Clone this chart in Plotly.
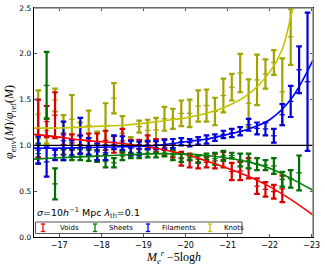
import plotly.graph_objects as go

# ---------------- data ----------------
mag_bins = [-16.5, -16.7, -16.9, -17.1, -17.3, -17.5, -17.7, -17.9, -18.1, -18.3,
            -18.5, -18.7, -18.9, -19.1, -19.3, -19.5, -19.7, -19.9, -20.1, -20.3,
            -20.5, -20.7, -20.9, -21.1, -21.3, -21.5, -21.7, -21.9, -22.1, -22.3,
            -22.5, -22.7, -22.9]

knots_lo = [1.08, 1.02, 1.37, 0.95, 1.02, 0.98, 1.05, 0.84, 0.84, 1.35, 0.94, 0.87, 1.14,
            1.05, 1.04, 1.16, 1.18, 1.21, 1.20, 1.26, 1.26, 1.22, 1.36, 1.49, 1.58, 1.20,
            1.44, 1.62, 1.77, 1.22, 1.88]
knots_hi = [1.60, 1.30, 1.62, 1.33, 1.55, 1.25, 1.38, 1.15, 1.46, 1.68, 1.32, 1.09, 1.27,
            1.28, 1.30, 1.42, 1.40, 1.49, 1.50, 1.60, 1.61, 1.52, 1.73, 1.78, 2.00, 1.72,
            1.99, 1.94, 2.04, 1.95, 2.49]

voids_lo = [0.87, 1.09, 1.08, 0.90, 0.95, 0.91, 0.96, 0.95, 0.95, 0.92, 0.92, 0.91, 0.96,
            0.96, 0.93, 0.89, 0.87, 0.78, 0.76, 0.75, 0.76, 0.75, 0.76, 0.62, 0.62, 0.64,
            0.47, 0.44, 0.42, 0.38]
voids_hi = [1.50, 1.43, 1.58, 1.12, 1.12, 1.11, 1.13, 1.13, 1.16, 1.10, 1.18, 1.06, 1.06,
            1.11, 1.07, 1.07, 1.01, 0.93, 0.91, 0.89, 0.87, 0.91, 0.93, 0.81, 0.82, 0.86,
            0.64, 0.60, 0.57, 0.67]

sheets_lo = [0.80, 1.29, 0.41, 0.84, 0.84, 0.84, 0.83, 0.82, 0.76, 0.76, 0.84, 0.86, 0.86,
             0.87, 0.87, 0.88, 0.84, 0.82, 0.84, 0.81, 0.84, 0.79, 0.83, 0.86, 0.77, 0.75,
             0.73, 0.73, 0.69, 0.55, 0.54, 0.51]
sheets_hi = [1.02, 2.02, 0.75, 0.96, 0.96, 0.96, 0.95, 0.95, 0.90, 0.86, 0.93, 0.92, 0.92,
             0.96, 0.97, 0.95, 0.95, 0.91, 0.89, 0.89, 0.91, 0.92, 0.94, 0.92, 0.91, 0.91,
             0.86, 0.84, 0.86, 0.71, 0.73, 0.89]

fil_lo = [0.80, 0.66, 0.84, 0.84, 0.88, 0.91, 0.90, 0.84, 0.84, 0.96, 0.95, 0.89, 0.89,
          0.96, 0.96, 0.96, 0.97, 1.00, 0.99, 1.01, 1.02, 1.05, 1.08, 1.09, 1.11, 1.16,
          1.12, 1.11, 1.03, 1.22, 1.31, 1.57, 0.94]
fil_hi = [1.10, 0.98, 0.95, 1.26, 1.06, 1.30, 1.08, 1.02, 1.00, 1.11, 1.10, 1.05, 1.04,
          1.05, 1.05, 1.06, 1.07, 1.08, 1.07, 1.09, 1.11, 1.12, 1.16, 1.18, 1.20, 1.29,
          1.25, 1.25, 1.18, 1.45, 1.65, 2.08, 2.45]

# fitted curves (read at a few magnitudes)
fit_x = [-16.4, -17.0, -17.5, -18.0, -18.5, -19.0, -19.5, -20.0, -20.5, -21.0,
         -21.5, -22.0, -22.5, -23.03]
fit_voids = [1.12, 1.09, 1.06, 1.04, 1.02, 0.99, 0.95, 0.90, 0.83, 0.75, 0.66, 0.55, 0.41, 0.24]
fit_sheets = [0.85, 0.865, 0.875, 0.885, 0.895, 0.905, 0.91, 0.905, 0.89, 0.86, 0.82, 0.75, 0.64, 0.51]
fit_fil = [0.97, 0.97, 0.975, 0.98, 0.985, 0.99, 1.01, 1.04, 1.07, 1.12, 1.18, 1.28, 1.50, 1.93]
fit_knots_x = [-16.4, -17.0, -17.5, -18.0, -18.5, -19.0, -19.5, -20.0, -20.5, -21.0,
               -21.5, -22.0, -22.3, -22.5, -22.65]
fit_knots = [1.19, 1.19, 1.20, 1.21, 1.22, 1.24, 1.27, 1.30, 1.35, 1.43, 1.56, 1.80, 2.05, 2.40, 2.70]

x_ticks = [-17, -18, -19, -20, -21, -22, -23]
x_tick_labels = ["\u221217", "\u221218", "\u221219", "\u221220", "\u221221", "\u221222", "\u221223"]
y_ticks = [0.0, 0.5, 1.0, 1.5, 2.0, 2.5]
y_tick_labels = ["0.0", "0.5", "1.0", "1.5", "2.0", "2.5"]

legend_names = ["Voids", "Sheets", "Filaments", "Knots"]
bar_colors = ["#d40000", "#006e00", "#0000d8", "#a3a300"]
line_colors = ["#ff0000", "#008000", "#0000ff", "#c4c400"]

# ---------------- figure ----------------
fig = go.Figure()


def add_bars(lo, hi, color):
    n = len(lo)
    xs = mag_bins[:n]
    mid = [(a + b) / 2 for a, b in zip(lo, hi)]
    err = [(b - a) / 2 for a, b in zip(lo, hi)]
    fig.add_trace(go.Scatter(
        x=xs, y=mid, mode="markers",
        marker=dict(symbol="line-ew", size=4, color=color, line=dict(color=color, width=1.2)),
        error_y=dict(type="data", array=err, symmetric=True, color=color, thickness=2.2, width=2.8),
        showlegend=False, cliponaxis=True, hoverinfo="skip"))


add_bars(knots_lo, knots_hi, bar_colors[3])
add_bars(voids_lo, voids_hi, bar_colors[0])
add_bars(sheets_lo, sheets_hi, bar_colors[1])
add_bars(fil_lo, fil_hi, bar_colors[2])

for fx, fy, c in [(fit_x, fit_voids, line_colors[0]), (fit_x, fit_sheets, line_colors[1]),
                  (fit_x, fit_fil, line_colors[2]), (fit_knots_x, fit_knots, line_colors[3])]:
    fig.add_trace(go.Scatter(x=fx, y=fy, mode="lines", line=dict(color=c, width=1.6, shape="spline"),
                             showlegend=False, hoverinfo="skip"))

# horizontal reference line at 1
fig.add_shape(type="line", xref="paper", yref="y", x0=0, x1=1, y0=1, y1=1,
              line=dict(color="black", width=1.2))
# grey top / right frame
fig.add_shape(type="line", xref="paper", yref="paper", x0=0, x1=1, y0=1, y1=1,
              line=dict(color="#909090", width=1.5))
fig.add_shape(type="line", xref="paper", yref="paper", x0=1, x1=1, y0=0, y1=1,
              line=dict(color="#909090", width=1.5))

# pixel -> paper helpers for the hand-drawn legend and labels
L, B, R, T = 34.0, 237.0, 313.0, 8.0
W, H = R - L, B - T


def px(xp):
    return (xp - L) / W


def py(yp):
    return (B - yp) / H


fig.add_shape(type="rect", xref="paper", yref="paper", x0=px(35.5), x1=px(242), y0=py(233.5), y1=py(222),
              line=dict(color="#555555", width=1), fillcolor="white")
sym_x = [43, 95, 148, 210]
txt_x = [58, 107, 160, 222]
for sx, tx, name, c in zip(sym_x, txt_x, legend_names, line_colors):
    fig.add_shape(type="line", xref="paper", yref="paper", x0=px(sx), x1=px(sx), y0=py(231.5), y1=py(224),
                  line=dict(color=c, width=1.3))
    for yy in (231.5, 224):
        fig.add_shape(type="line", xref="paper", yref="paper", x0=px(sx - 2.2), x1=px(sx + 2.2), y0=py(yy), y1=py(yy),
                      line=dict(color=c, width=1.3))
    fig.add_annotation(xref="paper", yref="paper", x=px(tx), y=py(228), text=name, showarrow=False,
                       xanchor="left", yanchor="middle", font=dict(family="DejaVu Sans", size=7, color="black"))

fig.add_annotation(xref="paper", yref="paper", x=px(35), y=py(213),
                   text="<i>σ</i>=10<i>h</i><sup>−1</sup> Mpc <i>λ</i><sub>th</sub>=0.1",
                   showarrow=False, xanchor="left", yanchor="middle",
                   font=dict(family="DejaVu Sans", size=9.5, color="black"))

# axis titles as annotations
fig.add_annotation(xref="paper", yref="paper", x=px(173), y=py(257),
                   text="<i>M</i><sub><i>e</i></sub><sup><i>r</i></sup> −5log<i>h</i>",
                   showarrow=False, xanchor="center", yanchor="middle",
                   font=dict(family="Liberation Serif", size=12, color="black"))
fig.add_annotation(xref="paper", yref="paper", x=px(10), y=py(122),
                   text="<i>φ</i><sub>env</sub>(<i>M</i>)/<i>φ</i><sub>ref</sub>(<i>M</i>)",
                   textangle=-90, showarrow=False, xanchor="center", yanchor="middle",
                   font=dict(family="Liberation Serif", size=12, color="black"))

fig.update_layout(
    width=325, height=267,
    margin=dict(l=34, r=12, t=8, b=30, autoexpand=False),
    paper_bgcolor="white", plot_bgcolor="white",
    showlegend=False, hovermode=False,
    xaxis=dict(range=[-16.40, -23.03], tickvals=x_ticks, ticktext=x_tick_labels, automargin=False,
               ticks="inside", ticklen=3, tickcolor="#555", showline=True, linecolor="black", linewidth=1.2,
               mirror="ticks", showgrid=False, zeroline=False, ticklabelstandoff=0,
               tickfont=dict(family="DejaVu Sans", size=8, color="black")),
    yaxis=dict(range=[0, 2.5], tickvals=y_ticks, ticktext=y_tick_labels, automargin=False,
               ticks="inside", ticklen=3, tickcolor="#555", showline=True, linecolor="black", linewidth=1.2,
               mirror="ticks", showgrid=False, zeroline=False,
               tickfont=dict(family="DejaVu Sans", size=7.5, color="black")),
)

fig.write_html("out.html", config={"displayModeBar": False, "staticPlot": True},
               post_script="document.body.style.margin='0px';document.body.style.overflow='hidden';")
